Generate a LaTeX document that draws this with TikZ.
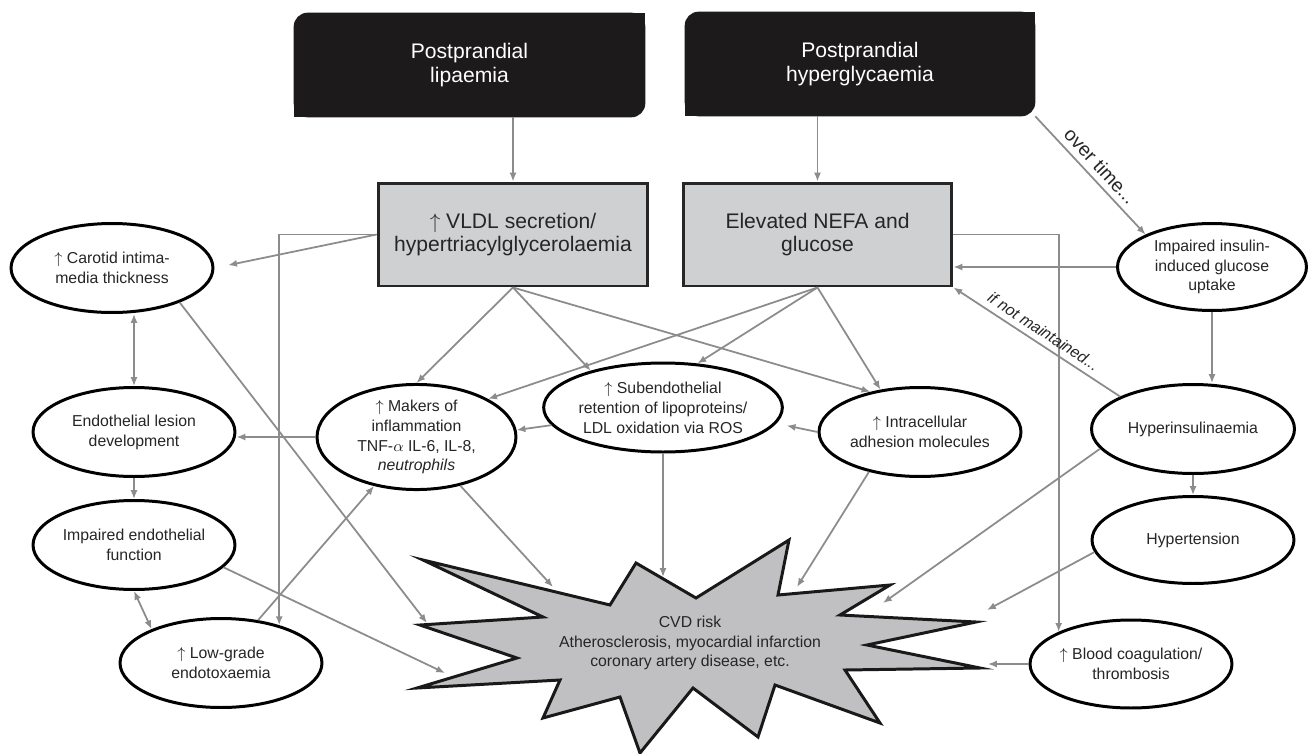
\documentclass[tikz,border=0pt]{standalone}
\usepackage{fontspec}
\setmainfont{Liberation Sans}
\usepackage{tikz}
\usetikzlibrary{arrows.meta,shapes.geometric,backgrounds}

\definecolor{lineg}{RGB}{140,140,140}
\definecolor{boxg}{RGB}{207,208,210}
\definecolor{burstg}{RGB}{192,192,194}
\definecolor{boxk}{RGB}{28,26,27}

\begin{document}
\begin{tikzpicture}[x=0.02cm,y=-0.02cm,>={Latex[length=5pt,width=4pt]},
	conn/.style={draw=lineg,line width=1pt},
	ellip/.style={ellipse,draw,line width=1.7pt,fill=white,minimum width=4.04cm,minimum height=1.78cm,inner sep=0pt,align=center,text=black!85,font=\fontsize{9}{11.3}\selectfont},
	greybox/.style={rectangle,draw=black!85,line width=1.7pt,fill=boxg,minimum width=5.4cm,minimum height=2.06cm,align=center,text=black!85,font=\fontsize{12}{13.6}\selectfont},
	blackbox/.style={rectangle,minimum width=7.02cm,minimum height=2.08cm,align=center,text=white,font=\fontsize{12}{13.6}\selectfont},
	burst/.style={fill=burstg,draw=black!90,line width=1.7pt,line join=miter}]
	%\draw [help lines] (0,0) grid (1309,754);
	\useasboundingbox (0,0) rectangle (1309,754);
	%Postprandial
	\node [blackbox] (lip) at (469.5,65) {Postprandial\\lipaemia};
	\node [blackbox, minimum width=7cm] (hyper) at (860,64) {Postprandial\\hyperglycaemia};
	\begin{scope}[on background layer]
		\fill[white] (0,0) rectangle (1309,754);
		\fill[boxk, rounded corners=8pt] (lip.north west) rectangle (lip.south east);
		\fill[boxk] (lip.north east) rectangle ([xshift=-10pt,yshift=-10pt]lip.north east);
		\fill[boxk] (lip.south west) rectangle ([xshift=10pt,yshift=10pt]lip.south west);
		\fill[boxk, rounded corners=8pt] (hyper.north west) rectangle (hyper.south east);
		\fill[boxk] (hyper.north east) rectangle ([xshift=-10pt,yshift=-10pt]hyper.north east);
		\fill[boxk] (hyper.south west) rectangle ([xshift=10pt,yshift=10pt]hyper.south west);
	\end{scope}
	%Grey boxes
	\node [greybox] (vldl) at (513,234.5) {$\uparrow$ VLDL secretion/\\hypertriacylglycerolaemia};
	\node [greybox, minimum width=5.38cm] (nefa) at (817.5,234.5) {Elevated NEFA and\\glucose};
	%Left column
	\node [ellip] (carotid) at (112,268) {$\uparrow$ Carotid intima-\\media thickness};
	\node [ellip] (lesion) at (134,432) {Endothelial lesion\\development};
	\node [ellip] (impaired) at (134,545) {Impaired endothelial\\function};
	\node [ellip] (lowgrade) at (221,663) {$\uparrow$ Low-grade\\endotoxaemia};
	%Middle
	\node [ellip, minimum width=3.98cm, minimum height=1.9cm] (makers) at (416.5,437) {$\uparrow$ Makers of\\inflammation\\TNF-$\alpha$ IL-6, IL-8,\\\textit{neutrophils}};
	\node [ellip, minimum width=3.84cm] (subendo) at (663,407.5) {$\uparrow$ Subendothelial\\retention of lipoproteins/\\LDL oxidation via ROS};
	\node [ellip] (intra) at (920,432) {$\uparrow$ Intracellular\\adhesion molecules};
	%Right column
	\node [ellip, minimum width=3.78cm, minimum height=1.74cm] (insulin) at (1212,267) {Impaired insulin-\\induced glucose\\uptake};
	\node [ellip, minimum width=4.06cm] (hyperins) at (1193,429) {Hyperinsulinaemia};
	\node [ellip, minimum height=1.74cm] (hypert) at (1193,540) {Hypertension};
	\node [ellip, minimum height=1.76cm] (blood) at (1131,664) {$\uparrow$ Blood coagulation/\\thrombosis};
	%CVD
	\filldraw [burst] (423,560) -- (610,605) -- (636,563) -- (696,598) -- (789,540) -- (778,595)
		-- (890,585) -- (840,615) -- (976,622) -- (867,645) -- (980,668) -- (845,670)
		-- (880,723) -- (775,685) -- (758,737) -- (693,688) -- (640,753) -- (620,697)
		-- (543,718) -- (560,680) -- (417,688) -- (517,658) -- (420,625) -- (543,617) -- cycle;
	\node [align=center, text=black!85, font=\fontsize{9}{11.3}\selectfont] (cvd) at (690,643) {CVD risk\\Atherosclerosis, myocardial infarction\\coronary artery disease, etc.};
	\coordinate (cvdA) at (427,623);
	\coordinate (cvdB) at (445,673);
	\coordinate (cvdC) at (553,587);
	\coordinate (cvdD) at (663,577);
	\coordinate (cvdE) at (797,587);
	\coordinate (cvdF) at (883,603);
	\coordinate (cvdG) at (987,610);
	\coordinate (cvdH) at (988,664);
	%Top arrows
	\draw [conn, ->] (vldl.north |- lip.south) -- (vldl.north);
	\draw [conn, ->] (nefa.north |- hyper.south) -- (nefa.north);
	\draw [conn, ->] (hyper.south east) -- node [sloped, above, text=black!85, font=\fontsize{11}{13}\selectfont] {over time...} (insulin.154);
	%From VLDL
	\draw [conn, ->, shorten >=8pt] (vldl.west) -- (carotid.east);
	\draw [conn, ->] (vldl.west) -| (lowgrade.33);
	\draw [conn, ->] (vldl.south) -- (makers.north);
	\draw [conn, ->] (vldl.south) -- (subendo.153);
	\draw [conn, ->] (vldl.south) -- (intra.141);
	%From NEFA
	\draw [conn, ->] (nefa.east) -| (blood.156);
	\draw [conn, ->] (nefa.south) -- (makers.28);
	\draw [conn, ->] (nefa.south) -- (subendo.52);
	\draw [conn, ->] (nefa.south) -- (intra.133);
	%Right side
	\draw [conn, ->] (insulin.west) -- (insulin.west -| nefa.east);
	\draw [conn, ->] (insulin.south) -- (insulin.south |- hyperins.north);
	\draw [conn, ->] (hyperins.south) -- (hypert.north);
	\draw [conn, <-] (nefa.south east) -- node [sloped, above, text=black!85, font=\fontsize{9}{11}\selectfont\itshape] {if not maintained...} (hyperins.156);
	%Middle links
	\draw [conn, ->, shorten >=6pt] (intra.west) -- (subendo.-8);
	\draw [conn, ->] (subendo.189) -- (makers.4);
	\draw [conn, ->] (makers.west) -- (makers.west -| lesion.east);
	\draw [conn, ->] (lowgrade) -- (makers);
	%Left links
	\draw [conn, <->] (lesion.north |- carotid.south) -- (lesion.north);
	\draw [conn, ->] (lesion.south) -- (impaired.north);
	\draw [conn, <->] (impaired.south) -- (lowgrade.154);
	%To CVD
	\draw [conn, ->] (carotid.-27) -- (cvdA);
	\draw [conn, ->] (impaired.-14) -- (cvdB);
	\draw [conn, ->] (makers.-48) -- (cvdC);
	\draw [conn, ->] (subendo.south) -- (cvdD);
	\draw [conn, ->] (intra.218) -- (cvdE);
	\draw [conn, ->] (hyperins.192) -- (cvdF);
	\draw [conn, ->] (hypert.187) -- (cvdG);
	\draw [conn, ->] (blood.west) -- (cvdH);
\end{tikzpicture}
\end{document}
